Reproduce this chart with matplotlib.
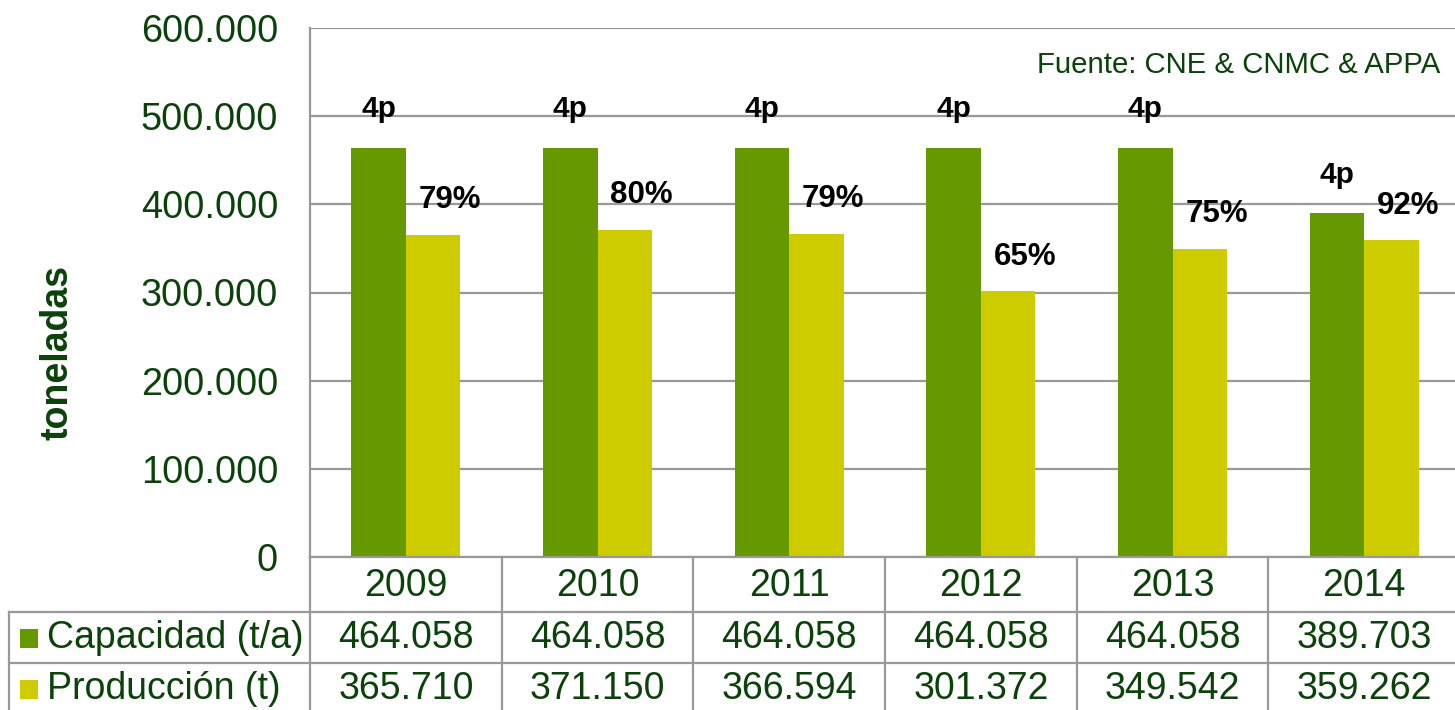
import matplotlib
matplotlib.use("Agg")
import matplotlib.pyplot as plt
from matplotlib.patches import Rectangle
from matplotlib.transforms import blended_transform_factory

years = ["2009", "2010", "2011", "2012", "2013", "2014"]
capacidad = [464058, 464058, 464058, 464058, 464058, 389703]
produccion = [365710, 371150, 366594, 301372, 349542, 359262]
plant_labels = ["4p", "4p", "4p", "4p", "4p", "4p"]
pct_labels = ["79%", "80%", "79%", "65%", "75%", "92%"]
series_names = ["Capacidad (t/a)", "Producción (t)"]
y_ticks = [0, 100000, 200000, 300000, 400000, 500000, 600000]

C_CAP = "#669900"
C_PROD = "#CCCC00"
TXT = "#0A420A"
GRID = "#999999"

plt.rcParams["font.family"] = ["Liberation Sans", "DejaVu Sans"]

W, H = 1455, 710
fig = plt.figure(figsize=(W / 100, H / 100), dpi=100)

def fx(px):
    return px / W

def fy(py):
    return 1 - py / H

ax_left, ax_right, ax_top, ax_bot = 310, 1460, 28, 557
ax = fig.add_axes([fx(ax_left), fy(ax_bot), (ax_right - ax_left) / W, (ax_bot - ax_top) / H])

n = len(years)
xs = list(range(n))
bw = 0.285
cap_x = [x - bw / 2 for x in xs]
prod_x = [x + bw / 2 for x in xs]
ax.bar(cap_x, capacidad, width=bw, color=C_CAP, zorder=3)
ax.bar(prod_x, produccion, width=bw, color=C_PROD, zorder=3)

ax.set_xlim(-0.5, n - 0.5)
ax.set_ylim(0, 600000)
ax.set_yticks(y_ticks)
ax.set_yticklabels([f"{v:,}".replace(",", ".") for v in y_ticks], fontsize=27.3, color=TXT)
ax.tick_params(axis="y", length=0, pad=23)
ax.set_xticks([])
ax.grid(axis="y", color=GRID, linewidth=1.6, zorder=0)
for s in ["top", "right", "bottom"]:
    ax.spines[s].set_visible(False)
ax.spines["left"].set_color(GRID)
ax.spines["left"].set_linewidth(1.6)

for x, v, lab in zip(cap_x, capacidad, plant_labels):
    ax.annotate(lab, (x, v), xytext=(0, 28), textcoords="offset points",
                ha="center", va="center", fontsize=21.5, fontweight="bold", color="black", zorder=5)
for x, v, lab in zip(prod_x, produccion, pct_labels):
    ax.annotate(lab, (x, v), xytext=(12, 25), textcoords="offset points",
                ha="center", va="center", fontsize=22.5, fontweight="bold", color="black", zorder=5)

ax.text(fx(1440), fy(65), "Fuente: CNE & CNMC & APPA", transform=fig.transFigure,
        ha="right", va="center", fontsize=21.2, color=TXT)

fig.text(fx(57), fy(352), "toneladas", rotation=90, ha="center", va="center",
         fontsize=27, fontweight="bold", color=TXT)

# data table
bt = blended_transform_factory(ax.transData, fig.transFigure)
row_lines = [612, 663]
row_centers = [586, 638, 689]
for ry in row_lines:
    fig.add_artist(plt.Line2D([fx(9), fx(1460)], [fy(ry), fy(ry)], color=GRID, lw=1.6))
fig.add_artist(plt.Line2D([fx(ax_left), fx(1460)], [fy(ax_bot), fy(ax_bot)], color=GRID, lw=1.6))
fig.add_artist(plt.Line2D([fx(9), fx(9)], [fy(612), fy(712)], color=GRID, lw=1.6))
fig.add_artist(plt.Line2D([fx(ax_left), fx(ax_left)], [fy(ax_bot), fy(712)], color=GRID, lw=1.6))
for b in range(1, n):
    ln = plt.Line2D([b - 0.5, b - 0.5], [fy(ax_bot), fy(712)], color=GRID, lw=1.6, transform=bt)
    fig.add_artist(ln)

for x, yr in zip(xs, years):
    fig.text(x, fy(row_centers[0]), yr, transform=bt, ha="center", va="center", fontsize=27, color=TXT)
for vals, rc in [(capacidad, row_centers[1]), (produccion, row_centers[2])]:
    for x, v in zip(xs, vals):
        fig.text(x, fy(rc), f"{v:,}".replace(",", "."), transform=bt, ha="center", va="center",
                 fontsize=27, color=TXT)

for name, col, rc in zip(series_names, [C_CAP, C_PROD], row_centers[1:]):
    fig.add_artist(Rectangle((fx(20), fy(rc + 10)), fx(18), 19 / H, transform=fig.transFigure,
                             facecolor=col, edgecolor="none"))
    fig.text(fx(47), fy(rc), name, ha="left", va="center", fontsize=27, color=TXT)

fig.savefig("out.png", dpi=100)
